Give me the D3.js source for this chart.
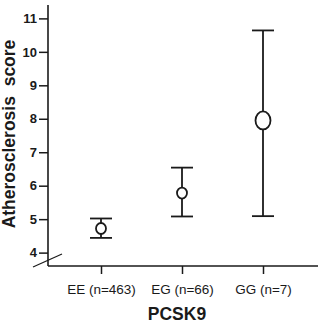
<!DOCTYPE html>
<html lang="en">
<head>
<meta charset="UTF-8">
<title>PCSK9</title>
<script src="https://cdn.jsdelivr.net/npm/d3@7"></script>
<style>
  body { margin: 0; background: #fff; }
  text { font-family: "Liberation Sans", Arial, sans-serif; fill: #1a1a1a; }
</style>
</head>
<body>
<script>
    // data
    var groups = ['EE (n=463)', 'EG (n=66)', 'GG (n=7)']
    var means = [4.72, 5.78, 7.95]
    var lower = [4.44, 5.08, 5.09]
    var upper = [5.02, 6.54, 10.64]
    var markerR = [[5, 5.5], [5, 5.5], [7.5, 9]]   // rx, ry of the open markers
    var yTicks = [4, 5, 6, 7, 8, 9, 10, 11]

    var width = 320,
        height = 324,
        plotLeft = 48,
        plotRight = 318,
        plotTop = 5,
        plotBottom = 266

    var svg = d3.select('body').append('svg')
        .attr('width', width)
        .attr('height', height)

    var x = d3.scalePoint()
        .domain(groups)
        .range([101, 263])

    var y = d3.scaleLinear()
        .domain([3.6, 11.4])
        .range([plotBottom, plotTop])

    var ink = '#1a1a1a'

    // y axis
    var yAxis = svg.append('g')
        .attr('transform', 'translate(' + plotLeft + ',0)')
        .call(d3.axisLeft(y).tickValues(yTicks).tickSize(9).tickPadding(2).tickFormat(d3.format('d')))
    yAxis.select('.domain').remove()
    yAxis.selectAll('line').attr('stroke', ink).attr('stroke-width', 1.5)
    yAxis.selectAll('text')
        .attr('fill', ink)
        .style('font-size', '13px')
        .style('font-weight', 'bold')
        .style('font-family', '"Liberation Sans", Arial, sans-serif')

    svg.append('line')
        .attr('x1', plotLeft).attr('x2', plotLeft)
        .attr('y1', plotTop).attr('y2', plotBottom)
        .attr('stroke', ink).attr('stroke-width', 1.6)

    // x axis
    var xAxis = svg.append('g')
        .attr('transform', 'translate(0,' + plotBottom + ')')
        .call(d3.axisBottom(x).tickSize(8).tickPadding(10))
    xAxis.select('.domain').remove()
    xAxis.selectAll('line').attr('stroke', ink).attr('stroke-width', 1.5)
    xAxis.selectAll('text')
        .attr('fill', ink)
        .style('font-size', '13.5px')
        .style('font-family', '"Liberation Sans", Arial, sans-serif')

    svg.append('line')
        .attr('x1', plotLeft).attr('x2', plotRight)
        .attr('y1', plotBottom).attr('y2', plotBottom)
        .attr('stroke', ink).attr('stroke-width', 1.6)

    // axis break mark
    svg.append('line')
        .attr('x1', 33).attr('y1', 267)
        .attr('x2', 62).attr('y2', 254)
        .attr('stroke', ink).attr('stroke-width', 1.2)

    // error bars
    var bars = svg.selectAll('g.bar')
        .data(groups)
        .enter()
        .append('g')
        .attr('class', 'bar')

    bars.each(function (d, i) {
        var g = d3.select(this)
        var cx = x(d)
        g.append('line')
            .attr('x1', cx).attr('x2', cx)
            .attr('y1', y(lower[i])).attr('y2', y(upper[i]))
            .attr('stroke', ink).attr('stroke-width', 1.8)
        ;[lower[i], upper[i]].forEach(function (v) {
            g.append('line')
                .attr('x1', cx - 11).attr('x2', cx + 11)
                .attr('y1', y(v)).attr('y2', y(v))
                .attr('stroke', ink).attr('stroke-width', 1.8)
        })
        g.append('ellipse')
            .attr('cx', cx).attr('cy', y(means[i]))
            .attr('rx', markerR[i][0]).attr('ry', markerR[i][1])
            .attr('fill', '#fff')
            .attr('stroke', ink).attr('stroke-width', 1.8)
    })

    // titles
    svg.append('text')
        .attr('x', 177)
        .attr('y', 320)
        .attr('text-anchor', 'middle')
        .style('font-size', '17.5px')
        .style('font-weight', 'bold')
        .text('PCSK9')

    svg.append('text')
        .attr('transform', 'translate(15,134) rotate(-90)')
        .attr('text-anchor', 'middle')
        .style('font-size', '17.5px')
        .style('font-weight', 'bold')
        .style('white-space', 'pre')
        .text('Atherosclerosis  score')
</script>
</body>
</html>
